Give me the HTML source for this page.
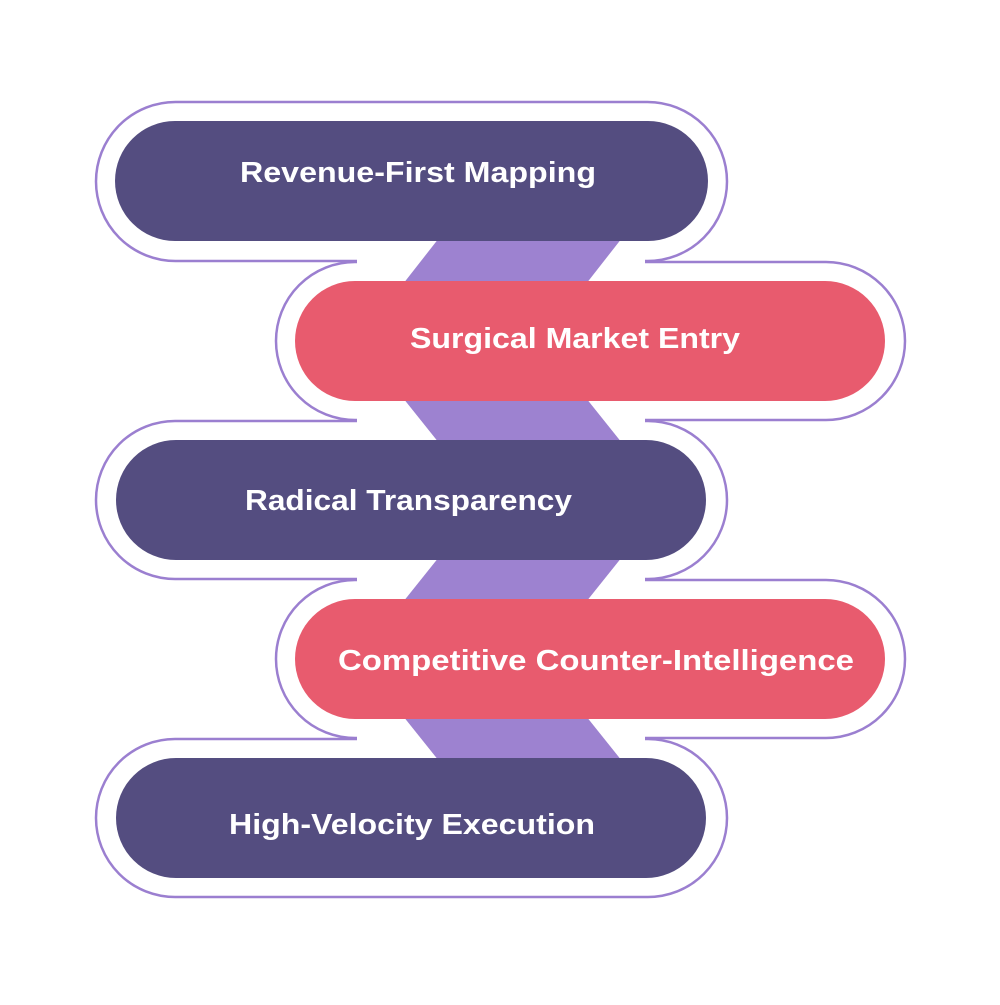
<!DOCTYPE html>
<html><head><meta charset="utf-8"><style>html,body{margin:0;padding:0;background:#fff}</style></head>
<body>
<svg width="1000" height="1000" viewBox="0 0 1000 1000" xmlns="http://www.w3.org/2000/svg">
<rect width="1000" height="1000" fill="#fff"/>
<g fill="#fff" stroke="#9b7fd0" stroke-width="2.5">
<rect x="96" y="102" width="631" height="159" rx="79.5"/>
<rect x="276" y="262" width="629" height="158" rx="79"/>
<rect x="96" y="421" width="631" height="158" rx="79"/>
<rect x="276" y="580" width="629" height="158" rx="79"/>
<rect x="96" y="739" width="631" height="158" rx="79"/>
</g>
<g fill="#fff">
<rect x="357" y="254" width="288" height="15"/>
<rect x="357" y="413" width="288" height="15"/>
<rect x="357" y="572" width="288" height="15"/>
<rect x="357" y="731" width="288" height="15"/>
</g>
<g fill="#9d82d0">
<polygon points="439,238 622,238 586,284 403,284"/>
<polygon points="403,398 586,398 622,443 439,443"/>
<polygon points="439,557 622,557 586,602 403,602"/>
<polygon points="403,716 586,716 622,761 439,761"/>
</g>
<rect x="115" y="121" width="593" height="120" rx="60" fill="#544d80"/>
<rect x="295" y="281" width="590" height="120" rx="60" fill="#e85b6e"/>
<rect x="116" y="440" width="590" height="120" rx="60" fill="#544d80"/>
<rect x="295" y="599" width="590" height="120" rx="60" fill="#e85b6e"/>
<rect x="116" y="758" width="590" height="120" rx="60" fill="#544d80"/>
<g fill="#fff" font-family="Liberation Sans, sans-serif" font-weight="bold" font-size="29">
<text x="240" y="182" textLength="356" lengthAdjust="spacingAndGlyphs">Revenue-First Mapping</text>
<text x="410" y="348" textLength="330" lengthAdjust="spacingAndGlyphs">Surgical Market Entry</text>
<text x="245" y="510" textLength="327" lengthAdjust="spacingAndGlyphs">Radical Transparency</text>
<text x="338" y="670" textLength="516" lengthAdjust="spacingAndGlyphs">Competitive Counter-Intelligence</text>
<text x="229" y="834" textLength="366" lengthAdjust="spacingAndGlyphs">High-Velocity Execution</text>
</g>
</svg>
</body></html>
